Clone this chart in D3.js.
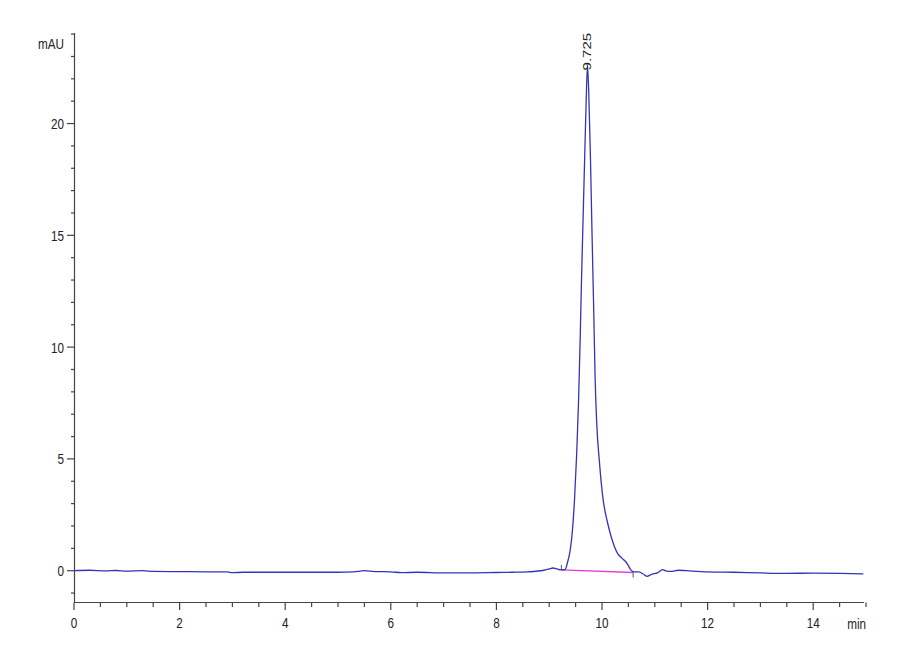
<!DOCTYPE html>
<html>
<head>
<meta charset="utf-8">
<script src="https://cdn.jsdelivr.net/npm/d3@7"></script>
<style>
  html, body { margin: 0; padding: 0; background: #fff; }
  svg text { font-family: "Liberation Sans", Arial, sans-serif; fill: #222; }
</style>
</head>
<body>
<svg id="chart" width="900" height="660"></svg>
<script>
// ---- data ----
const times = [0, 0.3, 0.6, 0.8, 1.0, 1.3, 1.5, 2.0, 2.5, 2.9, 3.0, 3.2, 3.5, 4.0, 4.5, 5.0, 5.3, 5.5, 5.7, 6.0, 6.2, 6.5, 7.0, 7.5, 8.0, 8.3, 8.6, 8.9, 9.0, 9.07, 9.15, 9.22,
  9.3, 9.35, 9.4, 9.44, 9.48, 9.52, 9.555, 9.585, 9.61, 9.64, 9.67, 9.7, 9.725, 9.75, 9.78, 9.81, 9.84, 9.87, 9.9, 9.95, 10.02, 10.1, 10.17, 10.24, 10.3, 10.38, 10.45, 10.5, 10.56,
  10.62, 10.7, 10.78, 10.85, 10.95, 11.05, 11.15, 11.22, 11.3, 11.45, 11.6, 12.0, 12.5, 13.0, 13.5, 14.0, 14.5, 14.95];
const signal = [0.0, 0.02, -0.01, 0.01, -0.02, 0.0, -0.03, -0.04, -0.05, -0.05, -0.09, -0.07, -0.07, -0.07, -0.07, -0.07, -0.05, 0.0, -0.04, -0.05, -0.09, -0.07, -0.1, -0.1, -0.08, -0.07, -0.05, 0.02, 0.08, 0.12, 0.08, 0.04,
  0.05, 0.4, 0.95, 1.8, 3.2, 5.2, 7.5, 10.2, 12.8, 15.6, 18.3, 21.0, 22.6, 21.3, 18.6, 15.2, 12.0, 8.6, 6.6, 4.9, 3.2, 2.2, 1.55, 1.05, 0.75, 0.55, 0.4, 0.22, 0.0,
  -0.05, -0.05, -0.15, -0.25, -0.15, -0.1, 0.05, -0.02, -0.03, 0.02, 0.0, -0.05, -0.07, -0.1, -0.12, -0.11, -0.12, -0.14];
const integrationBaseline = [[9.23, 0.04], [10.59, -0.08]];
const peakTime = 9.725;
const peakLabel = "9.725";
const xMajorTicks = [0, 2, 4, 6, 8, 10, 12, 14];
const yMajorTicks = [0, 5, 10, 15, 20];
const xUnit = "min";
const yUnit = "mAU";

// ---- layout ----
const svg = d3.select("#chart");
const x = d3.scaleLinear().domain([0, 15]).range([74, 866]);
const y = d3.scaleLinear().domain([-1.4, 24.05]).range([602, 33]);
const axisColor = "#444";
const sx = 0.78, fs = 15;

const xMinor = d3.range(0, 15.01, 0.5).filter(v => !xMajorTicks.includes(v));
const yMinor = d3.range(-1, 24.01, 1).filter(v => !yMajorTicks.includes(v));

function label(g, tx, ty, txt, anchor) {
  return g.append("text")
    .attr("transform", `translate(${tx},${ty}) scale(${sx},1)`)
    .attr("text-anchor", anchor).attr("font-size", fs).text(txt);
}

// X axis
const gx = svg.append("g");
gx.append("line").attr("x1", x(0)).attr("x2", x(14.96)).attr("y1", 602.5).attr("y2", 602.5)
  .attr("stroke", axisColor).attr("stroke-width", 1.2);
gx.selectAll("line.minor").data(xMinor).enter().append("line")
  .attr("x1", d => x(d)).attr("x2", d => x(d)).attr("y1", 602.5).attr("y2", 607)
  .attr("stroke", axisColor).attr("stroke-width", 1.2);
gx.selectAll("line.major").data(xMajorTicks).enter().append("line")
  .attr("x1", d => x(d)).attr("x2", d => x(d)).attr("y1", 602.5).attr("y2", 610)
  .attr("stroke", axisColor).attr("stroke-width", 1.2);
xMajorTicks.forEach(d => label(gx, x(d), 628, d, "middle"));
label(svg, 866, 629, xUnit, "end");

// Y axis
const gy = svg.append("g");
gy.append("line").attr("x1", 74.5).attr("x2", 74.5).attr("y1", y(24.05)).attr("y2", 602)
  .attr("stroke", axisColor).attr("stroke-width", 1.2);
gy.selectAll("line.minor").data(yMinor).enter().append("line")
  .attr("x1", 71).attr("x2", 74.5).attr("y1", d => y(d)).attr("y2", d => y(d))
  .attr("stroke", axisColor).attr("stroke-width", 1.2);
gy.selectAll("line.major").data(yMajorTicks).enter().append("line")
  .attr("x1", 67).attr("x2", 74.5).attr("y1", d => y(d)).attr("y2", d => y(d))
  .attr("stroke", axisColor).attr("stroke-width", 1.2);
yMajorTicks.forEach(d => label(gy, 64, y(d) + 5.5, d, "end"));
label(svg, 64, 48.5, yUnit, "end");

// integration baseline
svg.append("line")
  .attr("x1", x(integrationBaseline[0][0])).attr("y1", y(integrationBaseline[0][1]))
  .attr("x2", x(integrationBaseline[1][0])).attr("y2", y(integrationBaseline[1][1]))
  .attr("stroke", "#e040d8").attr("stroke-width", 1.3);
svg.append("line")
  .attr("x1", x(integrationBaseline[0][0])).attr("x2", x(integrationBaseline[0][0]))
  .attr("y1", y(integrationBaseline[0][1]) - 5).attr("y2", y(integrationBaseline[0][1]))
  .attr("stroke", "#555").attr("stroke-width", 1);
svg.append("line")
  .attr("x1", x(integrationBaseline[1][0])).attr("x2", x(integrationBaseline[1][0]))
  .attr("y1", y(integrationBaseline[1][1])).attr("y2", y(integrationBaseline[1][1]) + 5)
  .attr("stroke", "#555").attr("stroke-width", 1);

// signal
const pts = times.map((t, i) => [t, signal[i]]);
const line = d3.line().x(d => x(d[0])).y(d => y(d[1])).curve(d3.curveMonotoneX);
svg.append("path").attr("d", line(pts)).attr("fill", "none")
  .attr("stroke", "#3434b4").attr("stroke-width", 1.3);

// peak label
const peakVal = signal[times.indexOf(peakTime)];
svg.append("text")
  .attr("transform", `translate(${x(peakTime) + 4},${y(peakVal) + 5}) scale(${sx},1) rotate(-90)`)
  .attr("text-anchor", "start").attr("font-size", fs).text(peakLabel);
</script>
</body>
</html>
